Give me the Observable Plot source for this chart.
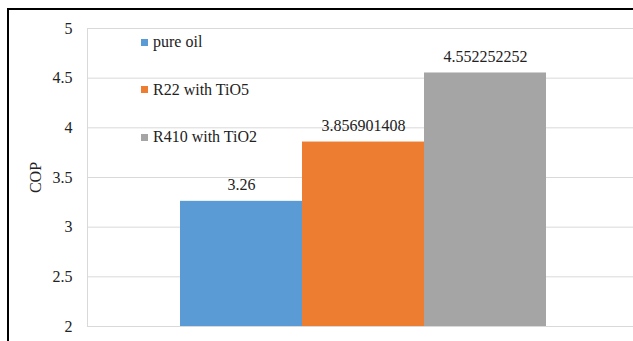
<!DOCTYPE html>
<html>
<head>
<meta charset="utf-8">
<script src="https://cdn.jsdelivr.net/npm/d3@7"></script>
<script src="https://cdn.jsdelivr.net/npm/@observablehq/plot@0.6"></script>
<style>
  html, body { margin: 0; padding: 0; background: #fff; }
  #wrap { position: relative; width: 633px; height: 341px; overflow: hidden; font-family: "Liberation Serif", "Times New Roman", serif; }
  #edge { position: absolute; left: 7px; top: 8px; width: 700px; height: 400px; border-top: 2px solid #000; border-left: 2px solid #000; pointer-events: none; }
  .key { position: absolute; left: 141px; display: flex; align-items: center; font-size: 16px; color: #222; line-height: 18px; white-space: nowrap; }
  .key i { display: inline-block; width: 7px; height: 7px; margin-right: 5px; }
  #plot { position: absolute; left: 0; top: 0; }
</style>
</head>
<body>
<div id="wrap">
  <div id="plot"></div>
  <div id="edge"></div>
</div>
<script>
// Coefficient of performance for each refrigerant/oil mixture
const series = ["pure oil", "R22 with TiO5", "R410 with TiO2"];
const cop = [3.26, 3.856901408, 4.552252252];
const colors = ["#5B9BD5", "#ED7D31", "#A5A5A5"];
const yTicks = [2, 2.5, 3, 3.5, 4, 4.5, 5];

const rows = series.map((s, i) => ({series: s, cop: cop[i], label: String(cop[i])}));

const chart = Plot.plot({
  width: 633,
  height: 341,
  marginLeft: 87,
  marginRight: 0,
  marginTop: 28,
  marginBottom: 15,
  style: {fontFamily: "'Liberation Serif', 'Times New Roman', serif", fontSize: "16px", color: "#222", background: "transparent", overflow: "visible"},
  x: {domain: series, range: [179, 546], padding: 0, axis: null},
  y: {domain: [2, 5], ticks: yTicks},
  color: {domain: series, range: colors},
  marks: [
    Plot.ruleY(yTicks, {stroke: "#D9D9D9", strokeWidth: 1}),
    Plot.frame({anchor: "left", stroke: "#D9D9D9"}),
    Plot.barY(rows, {x: "series", y1: 2, y2: "cop", fill: "series"}),
    Plot.text(rows, {x: "series", y: "cop", text: "label", dy: -16, fontSize: 16, fill: "#222"}),
    Plot.axisY({ticks: yTicks, tickSize: 0, tickPadding: 15, tickFormat: d => String(d), fontSize: 16,
      label: "COP", labelAnchor: "center", labelArrow: "none", labelOffset: 58, dy: 0})
  ]
});
document.getElementById("plot").appendChild(chart);

// Legend placed inside the plot area, top left
const wrap = document.getElementById("wrap");
series.forEach((s, i) => {
  const d = document.createElement("div");
  d.className = "key";
  d.style.top = (33 + i * 47.5) + "px";
  d.innerHTML = `<i style="background:${colors[i]}"></i><span>${s}</span>`;
  wrap.appendChild(d);
});
</script>
</body>
</html>
